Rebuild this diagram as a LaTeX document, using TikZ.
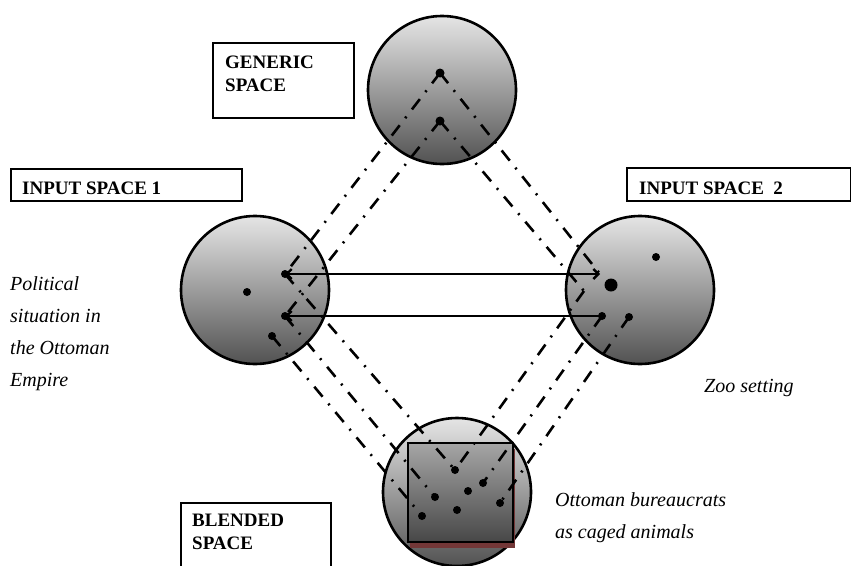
\documentclass[tikz,border=0pt]{standalone}
\usepackage{fontspec}
\setmainfont{Liberation Serif}
\usetikzlibrary{arrows.meta}
\definecolor{shadowred}{RGB}{115,55,55}
\begin{document}
\begin{tikzpicture}[x=1pt,y=-1pt,
  space/.style={circle, draw=black, line width=2.6pt, minimum size=148pt, inner sep=0pt, top color=black!10, bottom color=black!68},
  dot/.style={circle, fill=black, inner sep=0pt, minimum size=8pt},
  bigdot/.style={circle, fill=black, inner sep=0pt, minimum size=13pt},
  link/.style={line width=2.6pt, dash pattern=on 13pt off 9pt on 2pt off 9pt},
  conn/.style={line width=2.4pt},
  labelbox/.style={draw=black, line width=1.8pt, fill=white, anchor=north west, inner sep=0pt},
  labeltext/.style={font=\fontsize{19}{23}\selectfont\bfseries, anchor=north west, inner sep=0pt, align=left},
  note/.style={font=\fontsize{20}{32}\selectfont\itshape, inner sep=0pt, align=left}
]
\useasboundingbox (0,0) rectangle (851,565);
\clip (0,0) rectangle (851,565);

% spaces
\node[space] (generic) at (442,90) {};
\node[space] (input1) at (255,290) {};
\node[space] (input2) at (640,290) {};
\node[space] (blend) at (457,492) {};

% cage
\fill[shadowred] (410,449) rectangle (515,548);
\node[draw=black, line width=2pt, minimum width=105pt, minimum height=99pt, inner sep=0pt,
      top color=black!35, bottom color=black!72] (cage) at (460.5,492.5) {};

% label boxes
\node[labelbox, minimum width=141pt, minimum height=75pt] (genbox) at (212,42) {};
\node[labeltext] (gentext) at (225,56) {GENERIC\\SPACE};
\node[labelbox, minimum width=231pt, minimum height=32pt] (in1box) at (10,168) {};
\node[labeltext] (in1text) at (22,182) {INPUT SPACE 1};
\node[labelbox, minimum width=224pt, minimum height=33pt] (in2box) at (626,167) {};
\node[labeltext] (in2text) at (639,182) {INPUT SPACE\ \ 2};
\node[labelbox, minimum width=150pt, minimum height=80pt] (blbox) at (180,502) {};
\node[labeltext] (bltext) at (192,514) {BLENDED\\SPACE};

% notes
\node[note, anchor=north west] (pol) at (10,276) {Political\\situation in\\the Ottoman\\Empire};
\node[note, anchor=base west] (zoo) at (704,392) {Zoo setting};
\node[note, anchor=north west] (ott) at (555,492) {Ottoman bureaucrats\\as caged animals};

% element positions
\coordinate (g1) at (440,73);
\coordinate (g2) at (440,121);
\coordinate (l0) at (247,292);
\coordinate (l1) at (285,274);
\coordinate (l2) at (285,316);
\coordinate (l3) at (272,336);
\coordinate (r0) at (656,257);
\coordinate (rb) at (611,285);
\coordinate (r1) at (600,274);
\coordinate (rv) at (584,291);
\coordinate (r2) at (602,316);
\coordinate (r3) at (629,317);
\coordinate (b1) at (455,470);
\coordinate (b2) at (435,497);
\coordinate (b3) at (422,516);
\coordinate (b4) at (483,483);
\coordinate (b5) at (500,503);
\coordinate (b6) at (468,491);
\coordinate (b7) at (457,510);

% mappings
\draw[link] (g1) -- (l1);
\draw[link] (g2) -- (l2);
\draw[link] (g1) -- (r1);
\draw[link] (g2) -- (rv);
\draw[link] (l1) -- (b1);
\draw[link] (l2) -- (b2);
\draw[link] (l3) -- (b3);
\draw[link] (rv) -- (b1);
\draw[link] (r2) -- (b4);
\draw[link] (r3) -- (b5);

% cross-space connections
\draw[conn, {Straight Barb[length=5pt,width=10pt]}-{Straight Barb[length=5pt,width=10pt]}] (l1) -- (r1);
\draw[conn, {Straight Barb[length=5pt,width=10pt]}-] (l2) -- (r2);

% elements
\node[dot, minimum size=9pt] (d-g1) at (g1) {};
\node[dot, minimum size=9pt] (d-g2) at (g2) {};
\node[dot] (d-l0) at (l0) {};
\node[dot] (d-l1) at (l1) {};
\node[dot] (d-l2) at (l2) {};
\node[dot] (d-l3) at (l3) {};
\node[dot] (d-r0) at (r0) {};
\node[bigdot] (d-rb) at (rb) {};
\node[dot] (d-r2) at (r2) {};
\node[dot] (d-r3) at (r3) {};
\node[dot] (d-b1) at (b1) {};
\node[dot] (d-b2) at (b2) {};
\node[dot] (d-b3) at (b3) {};
\node[dot] (d-b4) at (b4) {};
\node[dot] (d-b5) at (b5) {};
\node[dot] (d-b6) at (b6) {};
\node[dot] (d-b7) at (b7) {};
\end{tikzpicture}
\end{document}
